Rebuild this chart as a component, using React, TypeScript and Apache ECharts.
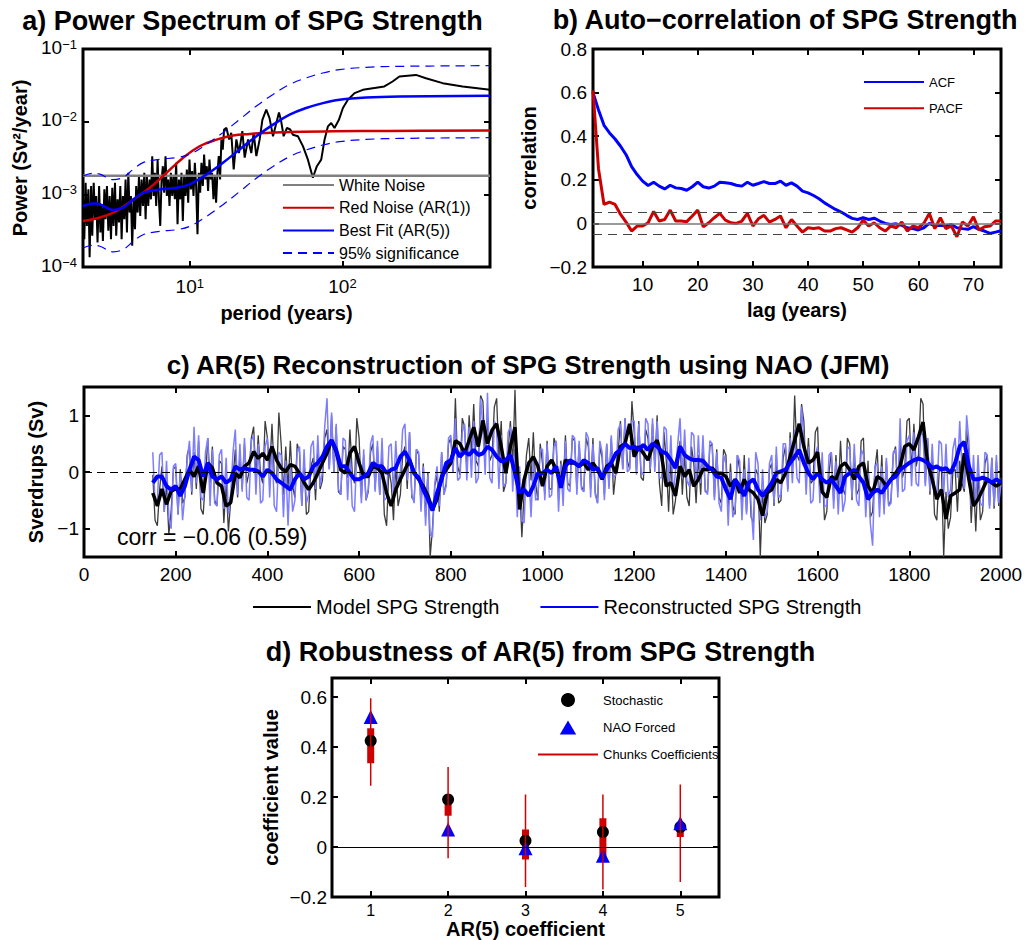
import React, { useEffect, useRef } from 'react';
import * as echarts from 'echarts';

const FONT = '"Liberation Sans", Arial, Helvetica, sans-serif';
const RED = '#cc0000';
const BLUE = '#0000ff';

// ---------- Panel a: power spectrum ----------
const specPeriod = [
  2.00, 2.04, 2.08, 2.12, 2.17, 2.21, 2.26, 2.30, 2.35, 2.40,
  2.44, 2.49, 2.55, 2.60, 2.65, 2.70, 2.76, 2.81, 2.87, 2.93,
  2.99, 3.05, 3.11, 3.17, 3.24, 3.30, 3.37, 3.44, 3.51, 3.58,
  3.65, 3.73, 3.80, 3.88, 3.96, 4.04, 4.12, 4.20, 4.29, 4.38,
  4.46, 4.56, 4.65, 4.74, 4.84, 4.94, 5.04, 5.14, 5.24, 5.35,
  5.46, 5.57, 5.68, 5.80, 5.91, 6.03, 6.16, 6.28, 6.41, 6.54,
  6.67, 6.80, 6.94, 7.08, 7.23, 7.37, 7.52, 7.68, 7.83, 7.99,
  8.15, 8.32, 8.49, 8.66, 8.83, 9.01, 9.19, 9.38, 9.57, 9.77,
  9.96, 10.17, 10.37, 10.58, 10.80, 11.01, 11.24, 11.47, 11.70, 11.93,
  12.18, 12.42, 12.67, 12.93, 13.19, 13.46, 13.73, 14.01, 14.30, 14.59,
  14.88, 15.18, 15.49, 15.80, 16.12, 16.45, 16.78,
  17.4, 18.1, 18.7, 19.4, 20.2, 21.0, 22.1, 22.9, 24.1, 25.3,
  26.2, 27.3, 28.7, 29.9, 31.7, 33.3, 35.1, 36.9, 38.4, 39.7,
  41.2, 43.3, 45.5, 47.4, 51.1, 55.1, 59.4, 64.0, 68.0, 72.6,
  76.4, 80.3, 84.4, 88.7, 94.8, 100.7, 108.5, 120, 136, 158,
  188, 213, 236, 303, 352, 453, 612, 925,
];
const specPower = [
  9.5e-4, 2.42e-4, 1.44e-3, 3.68e-4, 1.17e-3, 1.36e-4, 1.30e-3, 2.69e-4, 1.44e-3, 4.54e-4,
  9.5e-4, 2.18e-4, 1.30e-3, 2.98e-4, 6.92e-4, 2.29e-4, 1.17e-3, 4.54e-4, 1.30e-3, 3.15e-4,
  9.5e-4, 2.42e-4, 1.23e-3, 3.68e-4, 1.44e-3, 2.69e-4, 8.54e-4, 4.09e-4, 1.30e-3, 2.42e-4,
  9.5e-4, 4.54e-4, 1.60e-3, 2.98e-4, 1.98e-3, 5.61e-4, 9.5e-4, 1.96e-4, 8.54e-4, 3.31e-4,
  1.30e-3, 5.61e-4, 1.78e-3, 5.05e-4, 1.60e-3, 6.92e-4, 1.98e-3, 4.54e-4, 1.78e-3, 6.92e-4,
  1.60e-3, 8.54e-4, 3.35e-3, 9.5e-4, 1.98e-3, 6.92e-4, 3.02e-3, 8.54e-4, 3.68e-4, 1.60e-3,
  2.44e-3, 1.05e-3, 3.35e-3, 9.5e-4, 1.60e-3, 6.92e-4, 1.98e-3, 9.5e-4, 1.78e-3, 8.54e-4,
  2.71e-3, 3.88e-4, 1.60e-3, 8.54e-4, 1.98e-3, 4.31e-4, 1.78e-3, 9.5e-4, 2.20e-3, 7.69e-4,
  3.02e-3, 1.17e-3, 2.09e-3, 9.5e-4, 2.71e-3, 1.30e-3, 2.83e-4, 1.98e-3, 1.05e-3, 2.71e-3,
  1.30e-3, 3.53e-3, 1.60e-3, 2.44e-3, 1.11e-3, 3.02e-3, 1.60e-3, 1.98e-3, 8.54e-4, 1.78e-3,
  7.69e-4, 1.98e-3, 3.35e-3, 1.60e-3, 5.67e-3, 4.13e-3, 7.77e-3,
  8.2e-3, 5.7e-3, 7.0e-3, 2.2e-3, 5.7e-3, 3.7e-3, 7.4e-3, 3.2e-3, 5.7e-3, 3.7e-3,
  7.0e-3, 3.35e-3, 5.7e-3, 1.06e-2, 1.46e-2, 1.12e-2, 6.3e-3, 9.6e-3, 1.34e-2, 1.01e-2,
  6.3e-3, 8.2e-3, 7.8e-3, 6.6e-3, 6.3e-3, 4.6e-3, 3.0e-3, 1.69e-3, 2.44e-3, 3.0e-3,
  5.7e-3, 8.6e-3, 9.6e-3, 8.2e-3, 1.06e-2, 1.54e-2, 2.0e-2, 2.47e-2, 2.74e-2, 2.89e-2,
  3.05e-2, 3.57e-2, 4.18e-2, 4.4e-2, 3.96e-2, 3.39e-2, 3.05e-2, 2.74e-2,
];
const whiteNoiseLevel = 1.8e-3;
const redPeriod = [2, 2.58, 3.32, 4.27, 5.48, 7.05, 9.06, 11.6, 15.0, 19.2, 24.7, 31.7, 40.8, 86.5, 200, 925];
const redPower = [4.3e-4, 4.8e-4, 5.9e-4, 8.5e-4, 1.23e-3, 1.98e-3, 3.18e-3, 4.59e-3, 5.66e-3, 6.43e-3, 6.78e-3, 7.0e-3, 7.14e-3, 7.38e-3, 7.45e-3, 7.53e-3];
const fitPeriod = [2, 2.33, 2.58, 3.16, 3.67, 4.27, 4.95, 6.37, 8.19, 10, 12.9, 16.5, 21.2, 27.3, 35.1, 45.1, 57.9, 74.4, 95.7, 143, 236, 925];
const fitPower = [6.9e-4, 7.5e-4, 7.3e-4, 6.1e-4, 6.6e-4, 8.5e-4, 1.05e-3, 1.17e-3, 1.23e-3, 1.37e-3, 1.88e-3, 2.72e-3, 4.13e-3, 6.3e-3, 9.1e-3, 1.25e-2, 1.54e-2, 1.80e-2, 2.0e-2, 2.15e-2, 2.22e-2, 2.27e-2];
const sigUpper = [1.79e-3, 1.95e-3, 1.9e-3, 1.59e-3, 1.72e-3, 2.21e-3, 2.73e-3, 3.04e-3, 3.2e-3, 3.56e-3, 4.89e-3, 7.07e-3, 1.07e-2, 1.64e-2, 2.37e-2, 3.25e-2, 4.0e-2, 4.68e-2, 5.2e-2, 5.59e-2, 5.77e-2, 5.9e-2];
const sigLower = [1.83e-4, 1.99e-4, 1.93e-4, 1.62e-4, 1.75e-4, 2.25e-4, 2.78e-4, 3.1e-4, 3.26e-4, 3.63e-4, 4.98e-4, 7.2e-4, 1.09e-3, 1.67e-3, 2.41e-3, 3.31e-3, 4.08e-3, 4.77e-3, 5.3e-3, 5.7e-3, 5.88e-3, 6.02e-3];

// ---------- Panel b: ACF / PACF ----------
const acf = [
  0.60, 0.52, 0.45, 0.415, 0.387, 0.354, 0.315, 0.26, 0.224, 0.194,
  0.174, 0.189, 0.171, 0.158, 0.175, 0.163, 0.16, 0.152, 0.168, 0.189,
  0.168, 0.162, 0.171, 0.189, 0.186, 0.183, 0.175, 0.171, 0.189, 0.175,
  0.183, 0.192, 0.183, 0.183, 0.194, 0.175, 0.186, 0.171, 0.148, 0.14,
  0.128, 0.113, 0.094, 0.079, 0.064, 0.052, 0.037, 0.023, 0.018, 0.026,
  0.018, 0.024, 0.011, 0.0, -0.005, -0.002, -0.009, -0.02, -0.024, -0.03,
  -0.02, 0.0, -0.012, -0.009, -0.012, -0.005, -0.02, -0.024, -0.027, -0.015,
  -0.027, -0.035, -0.046, -0.04, -0.034,
];
const pacf = [
  0.61, 0.25, 0.087, 0.098, 0.087, 0.041, 0.006, -0.035, -0.012, -0.012,
  0.003, 0.055, 0.011, 0.018, 0.061, 0.011, 0.011, 0.008, 0.034, 0.061,
  -0.015, 0.003, 0.026, 0.046, 0.015, 0.003, 0.0, 0.011, 0.046, -0.012,
  0.021, 0.037, 0.006, 0.018, 0.034, -0.02, 0.018, -0.012, -0.04, -0.02,
  -0.023, -0.02, -0.035, -0.035, -0.024, -0.02, -0.03, -0.04, -0.02, 0.015,
  -0.012, 0.003, -0.02, -0.035, -0.012, -0.02, 0.006, -0.035, -0.012, -0.02,
  0.0, 0.046, -0.024, 0.026, -0.024, -0.012, -0.061, 0.006, -0.012, 0.03,
  -0.03, -0.015, -0.012, 0.011, 0.011,
];
const confBound = 0.047;

// ---------- Panel c: time series (decadal smooth, 5-yearly raw) ----------
const modelSmooth = [
  -0.37, -0.6, -0.3, -0.57, -0.34, -0.3, -0.3, -0.13, 0.04, -0.08,
  0.1, -0.37, 0.16, 0.07, -0.19, -0.25, -0.6, -0.54, -0.02, -0.1,
  0.1, 0.16, 0.36, 0.24, 0.33, 0.21, 0.45, 0.21, 0.07, 0.01,
  0.13, 0.1, -0.02, -0.19, -0.31, -0.19, -0.02, 0.16, 0.33, 0.56,
  0.36, 0.04, -0.02, 0.33, 0.45, 0.16, -0.08, -0.08, 0.1, 0.07,
  -0.02, -0.37, -0.6, -0.31, -0.13, 0.04, 0.21, -0.02, -0.13, -0.25,
  -0.42, -0.66, -0.48, -0.08, 0.04, 0.16, 0.55, 0.5, 0.33, 0.56,
  0.79, 0.45, 0.91, 0.5, 0.74, 0.85, 0.45, -0.02, 0.45, 0.79,
  -0.66, -0.13, 0.16, 0.27, 0.1, -0.25, 0.1, 0.21, 0.04, -0.19,
  0.21, 0.16, 0.16, 0.1, 0.16, 0.04, 0.16, 0.04, -0.13, 0.1,
  0.16, -0.02, 0.45, 0.5, 0.85, 0.27, 0.45, 0.33, 0.21, 0.45,
  0.56, 0.27, -0.25, -0.19, -0.42, 0.1, -0.08, 0.04, -0.25, -0.13,
  0.05, 0.04, 0.07, -0.02, -0.02, -0.08, -0.25, -0.13, -0.37, -0.13,
  -0.31, -0.37, -0.48, -0.77, -0.37, -0.31, -0.13, -0.19, -0.02, 0.27,
  0.56, 0.85, 0.45, 0.16, 0.21, 0.35, -0.35, -0.45, -0.08, -0.13,
  0.1, 0.16, 0.04, -0.13, 0.1, 0.16, -0.25, -0.37, -0.08, -0.13,
  -0.25, -0.13, -0.02, 0.1, 0.45, 0.5, 0.39, 0.62, 0.88, 0.16,
  -0.13, -0.48, -0.31, -0.83, -0.42, -0.37, -0.31, 0.33, -0.13, -0.6,
  -0.48, -0.31, -0.13, -0.19, -0.25, -0.19,
];
const reconSmooth = [
  -0.19, -0.08, -0.08, -0.25, -0.31, -0.25, -0.42, -0.25, 0.04, 0.27,
  0.21, -0.08, 0.16, -0.08, -0.13, -0.08, -0.19, -0.13, 0.1, 0.04,
  0.07, 0.04, 0.04, 0.01, -0.08, 0.04, -0.02, -0.13, -0.19, -0.25,
  -0.31, -0.13, -0.02, -0.13, -0.08, 0.1, 0.16, 0.27, 0.45, 0.56,
  0.39, 0.1, 0.1, -0.02, -0.13, -0.13, -0.08, -0.02, 0.16, 0.1,
  0.1, -0.02, 0.04, 0.07, 0.27, 0.36, 0.21, -0.02, -0.1, -0.31,
  -0.48, -0.68, -0.37, -0.13, 0.16, 0.21, 0.42, 0.27, 0.36, 0.3,
  0.39, 0.3, 0.33, 0.45, 0.39, 0.27, 0.19, 0.21, 0.3, -0.02,
  -0.37, -0.31, -0.42, -0.25, -0.02, -0.02, 0.04, -0.02, 0.1, -0.28,
  0.1, 0.21, 0.16, 0.1, 0.21, 0.16, 0.04, 0.07, -0.1, 0.04,
  0.16, 0.33, 0.39, 0.5, 0.42, 0.45, 0.39, 0.48, 0.39, 0.5,
  0.45, 0.36, 0.33, 0.21, 0.07, 0.45, 0.3, 0.24, 0.21, 0.21,
  0.2, 0.1, 0.04, -0.08, -0.1, -0.31, -0.48, -0.13, -0.25, -0.42,
  -0.19, -0.13, -0.31, -0.42, -0.31, -0.19, -0.02, 0.01, 0.04, 0.16,
  0.27, 0.39, 0.16, -0.02, -0.13, -0.02, -0.13, -0.19, -0.13, -0.25,
  -0.37, -0.08, -0.02, 0.04, -0.08, -0.19, -0.48, -0.37, -0.31, -0.37,
  -0.25, -0.13, -0.08, 0.04, 0.1, 0.16, 0.21, 0.24, 0.21, 0.16,
  0.07, 0.1, 0.04, 0.07, -0.02, 0.16, 0.45, 0.53, 0.1, -0.13,
  -0.13, -0.1, -0.13, -0.19, -0.13, -0.19,
];
const modelRaw = [
  -0.05, -0.85, -0.95, -0.3, 0.1, -0.7, -0.2, -1.1, -0.7, 0.05, 0.1, -0.75, 0.05, -0.55, -0.45, 0.3, 0.45, -0.4, 0.35, -0.3,
  0.55, -0.65, -0.75, -0.1, 0.6, -0.2, 0.45, -0.5, -0.6, 0.2, 0.15, -0.9, -0.2, -1.05, -0.5, -0.1, 0.4, -0.45, 0.3, -0.3,
  0.5, -0.2, 0.0, 0.6, 0.8, -0.1, 0.65, -0.05, -0.2, 0.9, 0.6, 0.0, 0.85, -0.05, -0.2, 1.05, 0.5, -0.4, 0.45, -0.3,
  0.55, -0.25, -0.45, 0.5, 0.35, -0.6, 0.2, -0.75, -0.7, 0.1, 0.25, -0.5, 0.4, -0.3, -0.15, 0.6, 0.75, 0.05, 1.0, 0.0,
  0.8, -0.35, -0.4, 0.45, 0.4, -0.1, 0.75, 0.0, -0.2, 0.95, 0.6, -0.45, 0.3, -0.5, -0.35, 0.35, 0.5, -0.3, 0.45, -0.4,
  0.35, -0.75, -0.95, 0.05, -0.2, -0.85, 0.15, -0.6, -0.4, 0.3, 0.45, -0.3, 0.7, -0.45, -0.5, 0.4, 0.3, -0.6, 0.15, -0.8,
  0.0, -1.5, -1.0, -0.25, -0.05, -0.7, 0.35, -0.4, -0.2, 0.5, 0.6, 0.0, 1.3, 0.1, -0.05, 0.95, 0.8, 0.05, 1.0, 0.3,
  1.2, 0.2, 0.1, 1.35, 1.25, 0.3, 0.95, 0.2, 0.3, 1.15, 1.3, 0.2, 0.9, -0.35, -0.2, 0.4, 0.9, 0.1, 1.45, -0.1,
  -0.2, -1.15, -0.35, 0.3, 0.6, -0.15, 0.7, -0.2, -0.5, 0.5, 0.15, -0.4, 0.55, -0.3, -0.3, 0.6, 0.45, -0.5, 0.2, -0.3,
  0.65, -0.2, -0.25, 0.6, 0.55, -0.3, 0.5, -0.25, -0.35, 0.6, 0.45, -0.3, 0.6, -0.35, -0.55, 0.45, 0.25, -0.4, 0.5, -0.25,
  0.6, -0.4, 0.0, 0.35, 0.9, 0.05, 0.95, 0.2, 0.05, 1.25, 0.7, 0.0, 0.9, -0.1, -0.15, 0.75, 0.6, 0.0, 0.85, 0.1,
  1.0, -0.2, -0.6, 0.7, 0.2, -0.7, 0.25, -0.75, -0.5, 0.0, 0.55, -0.4, 0.35, -0.45, -0.6, 0.45, 0.15, -0.55, 0.3, -0.4,
  0.5, -0.35, -0.35, 0.45, 0.5, -0.45, 0.4, -0.45, -0.55, 0.4, 0.3, -0.6, 0.15, -0.6, -0.75, 0.3, 0.05, -0.6, 0.3, -0.7,
  0.1, -0.8, -0.9, 0.05, -0.05, -1.5, -0.3, -0.9, -0.75, 0.05, 0.15, -0.6, 0.3, -0.55, -0.5, 0.25, 0.45, -0.3, 0.7, 0.0,
  1.35, 0.3, 0.2, 1.2, 0.9, -0.1, 0.6, -0.2, -0.15, 0.7, 0.8, -0.4, 0.1, -0.85, -0.7, 0.0, 0.35, -0.5, 0.3, -0.4,
  0.55, -0.3, -0.4, 0.6, 0.5, -0.5, 0.35, -0.4, -0.3, 0.55, 0.6, -0.6, 0.2, -0.8, -0.7, 0.05, 0.4, -0.55, 0.3, -0.65,
  0.2, -0.6, -0.5, 0.3, 0.45, -0.35, 0.55, -0.1, 0.05, 0.9, 0.95, 0.0, 0.85, 0.1, 0.3, 1.3, 1.2, -0.2, 0.6, -0.4,
  0.3, -0.75, -0.85, 0.0, 0.1, -1.5, -0.35, -1.0, -0.8, 0.0, 0.05, -0.7, 0.2, -0.2, -0.35, 0.75, 0.3, -0.9, -0.15, -1.05,
  0.0, -0.85, -0.7, 0.15, 0.3, -0.6, 0.25, -0.65, 0.2, -0.6, -0.1,
];
const reconRaw = [
  0.35, -0.55, -0.5, 0.3, 0.35, -0.7, 0.2, -0.8, -1.0, 0.1, 0.15, -0.75, 0.0, -0.85, -0.4, 0.2, 0.55, -0.35, 0.8, -0.2,
  0.65, -0.45, -0.5, 0.35, 0.6, -0.6, 0.4, -0.55, -0.6, 0.3, 0.4, -0.65, 0.25, -0.75, -0.4, 0.35, 0.75, -0.4, 0.5, -0.35,
  0.6, -0.45, -0.5, 0.55, 0.65, -0.4, 0.5, -0.55, -0.5, 0.45, 0.6, -0.45, 0.5, -0.6, -0.7, 0.35, 0.3, -0.8, 0.2, -0.95,
  0.1, -0.7, -0.5, 0.35, 0.45, -0.6, 0.4, -0.55, -0.4, 0.45, 0.55, -0.3, 0.65, -0.25, 0.0, 0.8, 1.3, 0.05, 1.05, 0.0,
  0.85, -0.3, -0.4, 0.6, 0.55, -0.5, 0.4, -0.6, -0.7, 0.35, 0.3, -0.55, 0.4, -0.5, -0.3, 0.5, 0.65, -0.35, 0.55, -0.4,
  0.6, -0.5, -0.45, 0.45, 0.5, -0.4, 0.55, -0.2, 0.0, 0.75, 0.85, -0.15, 0.7, -0.4, -0.55, 0.4, 0.35, -0.7, 0.1, -0.95,
  -0.05, -1.1, -1.15, -0.2, 0.1, -0.6, 0.35, -0.4, -0.25, 0.6, 0.65, 0.0, 0.95, -0.15, -0.1, 0.7, 0.85, -0.15, 0.8, -0.1,
  0.9, -0.2, -0.1, 1.3, 0.8, -0.05, 1.4, -0.1, -0.2, 0.9, 0.75, -0.3, 0.65, -0.25, -0.2, 0.7, 0.8, -0.35, 0.4, -0.8,
  0.1, -0.85, -0.9, 0.15, 0.05, -0.8, 0.2, -0.5, -0.45, 0.4, 0.4, -0.5, 0.5, -0.45, -0.4, 0.45, 0.55, -0.7, 0.15, -0.6,
  0.55, -0.3, -0.35, 0.65, 0.6, -0.4, 0.55, -0.3, -0.35, 0.7, 0.6, -0.45, 0.5, -0.4, -0.55, 0.55, 0.35, -0.5, 0.5, -0.3,
  0.65, -0.1, -0.05, 0.75, 0.85, 0.05, 0.95, 0.0, 0.05, 0.9, 0.9, -0.05, 0.85, 0.0, -0.05, 0.95, 0.85, 0.05, 0.95, 0.0,
  0.9, -0.1, -0.1, 0.8, 0.75, -0.2, 0.65, -0.4, 0.0, 0.5, 0.95, -0.1, 0.75, -0.15, -0.25, 0.7, 0.65, -0.25, 0.65, -0.2,
  0.65, -0.3, -0.4, 0.55, 0.5, -0.5, 0.35, -0.55, -0.7, 0.3, 0.15, -0.95, 0.0, -0.8, -0.65, 0.3, 0.2, -0.85, 0.05, -0.75,
  0.25, -0.6, -1.2, 0.35, 0.15, -0.85, 0.05, -0.8, -0.7, 0.15, 0.3, -0.55, 0.45, -0.45, -0.4, 0.5, 0.5, -0.35, 0.6, -0.2,
  0.75, -0.1, -0.2, 1.15, 0.6, -0.4, 0.45, -0.55, -0.5, 0.3, 0.45, -0.55, 0.35, -0.6, -0.6, 0.3, 0.35, -0.65, 0.2, -0.75,
  0.1, -0.7, -0.5, 0.4, 0.45, -0.45, 0.5, -0.5, -0.6, 0.4, 0.3, -0.8, 0.0, -0.9, -1.3, 0.1, 0.15, -0.8, 0.1, -0.75,
  0.25, -0.6, -0.55, 0.35, 0.4, -0.45, 0.95, -0.35, -0.3, 0.55, 0.65, -0.25, 0.7, -0.2, -0.25, 0.7, 0.65, -0.25, 0.6, -0.35,
  0.5, -0.35, -0.4, 0.55, 0.5, -0.4, 0.5, -0.45, -0.3, 0.4, 0.6, -0.1, 0.9, 0.05, -0.3, 1.0, 0.55, -0.6, 0.3, -0.6,
  0.3, -0.55, -0.6, 0.35, 0.3, -0.65, 0.25, -0.6, 0.3, -0.55, -0.2,
];
const years10 = modelSmooth.map((_, i) => 150 + i * 10);
const years5 = modelRaw.map((_, i) => 150 + i * 5);

// ---------- Panel d: AR(5) coefficients ----------
const coefIndex = [1, 2, 3, 4, 5];
const stochastic = [0.425, 0.19, 0.025, 0.06, 0.08];
const naoForced = [0.52, 0.07, -0.005, -0.035, 0.095];
const chunkMin = [0.245, -0.045, -0.16, -0.17, -0.14];
const chunkMax = [0.595, 0.32, 0.21, 0.21, 0.25];
const chunkQ1 = [0.335, 0.125, -0.05, -0.04, 0.04];
const chunkQ3 = [0.475, 0.205, 0.07, 0.115, 0.095];

// ---------- helpers ----------
const zip = (xs: number[], ys: any[]) => xs.map((x, i) => [x, ys[i]]);
const fmtNum = (v: number) => {
  const r = Math.round(v * 1000) / 1000;
  return r < 0 ? '\u2212' + String(-r) : String(r);
};
const pow10Label = (v: number) => {
  const e = Math.round(Math.log10(v));
  const es = e < 0 ? '\u2212' + Math.abs(e) : String(e);
  return '{b|10}{s|' + es + '}';
};
const supRich = {
  b: { fontSize: 19, lineHeight: 19, verticalAlign: 'bottom', fontFamily: FONT, color: '#000' },
  s: { fontSize: 13, lineHeight: 13, verticalAlign: 'top', padding: [0, 0, 10, 0], fontFamily: FONT, color: '#000' },
};
const nameStyle = { fontFamily: FONT, fontSize: 20, fontWeight: 'bold', color: '#000' };
const tickOf = (vals: number[]) => ({ show: true, inside: true, length: 6, customValues: vals, lineStyle: { color: '#000', width: 2 } });

function mainAxis(gridIndex: number, position: string, scale: any, ticks: number[], labelExtra: any, name?: string, nameGap?: number) {
  return {
    gridIndex, position, ...scale,
    axisLine: { show: false, onZero: false }, splitLine: { show: false }, minorTick: { show: false }, minorSplitLine: { show: false },
    axisTick: tickOf(ticks),
    axisLabel: { show: true, customValues: ticks, color: '#000', fontFamily: FONT, fontSize: 19, formatter: fmtNum, ...labelExtra },
    name: name || '', nameLocation: 'middle', nameGap: nameGap || 0, nameTextStyle: nameStyle,
  };
}
function mirrorAxis(gridIndex: number, position: string, scale: any, ticks: number[]) {
  return {
    gridIndex, position, ...scale,
    axisLine: { show: false, onZero: false }, splitLine: { show: false }, minorTick: { show: false },
    axisTick: tickOf(ticks), axisLabel: { show: false },
  };
}

function buildOption(): any {
  const gridBase = { show: true, borderColor: '#000', borderWidth: 3, backgroundColor: '#fff', containLabel: false, outerBoundsMode: 'none' };
  const logX = { type: 'log', logBase: 10, min: 2, max: 925 };
  const logY = { type: 'log', logBase: 10, min: 1e-4, max: 1e-1 };
  const lagX = { type: 'value', min: 1, max: 75 };
  const corrY = { type: 'value', min: -0.2, max: 0.8 };
  const yearX = { type: 'value', min: 0, max: 2000 };
  const svY = { type: 'value', min: -1.5, max: 1.5 };
  const coefX = { type: 'value', min: 0.5, max: 5.5 };
  const coefY = { type: 'value', min: -0.2, max: 0.676 };

  const decades = [1e-4, 1e-3, 1e-2, 1e-1];
  const lagTicks = [10, 20, 30, 40, 50, 60, 70];
  const corrTicks = [-0.2, 0, 0.2, 0.4, 0.6, 0.8];
  const yearTicks = [0, 200, 400, 600, 800, 1000, 1200, 1400, 1600, 1800, 2000];
  const coefYTicks = [-0.2, 0, 0.2, 0.4, 0.6];

  const legendText = (size: number) => ({ fontSize: size, color: '#000', fontFamily: FONT });
  const titleStyle = (size: number) => ({ fontSize: size, lineHeight: 20, fontWeight: 'bold', color: '#000', fontFamily: FONT });
  const hideSymbol = { opacity: 0 };

  const whisker: any[] = [];
  coefIndex.forEach((c, i) => { whisker.push([c, chunkMin[i]], [c, chunkMax[i]], [c, '-']); });

  return {
    animation: false,
    backgroundColor: '#fff',
    textStyle: { fontFamily: FONT },
    title: [
      { text: 'a) Power Spectrum of SPG Strength', left: 252.5, top: 10.5, textAlign: 'center', padding: 0, textStyle: titleStyle(27) },
      { text: 'b) Auto\u2212correlation of SPG Strength', left: 785, top: 10, textAlign: 'center', padding: 0, textStyle: titleStyle(27) },
      { text: 'c) AR(5) Reconstruction of SPG Strength using NAO (JFM)', left: 528, top: 354.5, textAlign: 'center', padding: 0, textStyle: titleStyle(26) },
      { text: 'd) Robustness of AR(5) from SPG Strength', left: 540.5, top: 641.5, textAlign: 'center', padding: 0, textStyle: titleStyle(27) },
    ],
    grid: [
      { ...gridBase, left: 83, top: 49, width: 407, height: 218 },
      { ...gridBase, left: 593, top: 49, width: 408, height: 218 },
      { ...gridBase, left: 84, top: 387, width: 917, height: 170 },
      { ...gridBase, left: 332, top: 678, width: 387, height: 219 },
    ],
    xAxis: [
      mainAxis(0, 'bottom', logX, [10, 100], { formatter: pow10Label, rich: supRich, margin: 10 }, 'period (years)', 36),
      mirrorAxis(0, 'top', logX, [10, 100]),
      mainAxis(1, 'bottom', lagX, lagTicks, { margin: 8 }, 'lag (years)', 33),
      mirrorAxis(1, 'top', lagX, lagTicks),
      mainAxis(2, 'bottom', yearX, yearTicks, { margin: 8 }),
      mirrorAxis(2, 'top', yearX, yearTicks),
      mainAxis(3, 'bottom', coefX, coefIndex, { margin: 5, fontSize: 16 }, 'AR(5) coefficient', 20),
      mirrorAxis(3, 'top', coefX, coefIndex),
    ],
    yAxis: [
      mainAxis(0, 'left', logY, decades, { formatter: pow10Label, rich: supRich, margin: 6, padding: [0, 0, 4, 0] }, 'Power (Sv\u00b2/year)', 53),
      mirrorAxis(0, 'right', logY, decades),
      mainAxis(1, 'left', corrY, corrTicks, { margin: 6 }, 'correlation', 54),
      mirrorAxis(1, 'right', corrY, corrTicks),
      mainAxis(2, 'left', svY, [-1, 0, 1], { margin: 5 }, 'Sverdrups (Sv)', 37),
      mirrorAxis(2, 'right', svY, [-1, 0, 1]),
      mainAxis(3, 'left', coefY, coefYTicks, { margin: 5 }, 'coefficient value', 51),
      mirrorAxis(3, 'right', coefY, coefYTicks),
    ],
    legend: [
      {
        data: ['White Noise', 'Red Noise (AR(1))', 'Best Fit (AR(5))', '95% significance'],
        orient: 'vertical', left: 282, top: 177, itemWidth: 51, itemHeight: 16, itemGap: 6.7, padding: 0,
        itemStyle: hideSymbol, textStyle: legendText(16), selectedMode: false,
      },
      {
        data: ['ACF', 'PACF'], orient: 'vertical', left: 863, top: 75.5, itemWidth: 60, itemHeight: 14, itemGap: 13.3, padding: 0,
        itemStyle: hideSymbol, textStyle: legendText(13), selectedMode: false,
      },
      {
        data: ['Model SPG Strength', 'Reconstructed SPG Strength'], orient: 'horizontal', left: 252, top: 597,
        itemWidth: 58, itemHeight: 20, itemGap: 40, padding: 0, itemStyle: hideSymbol, textStyle: legendText(20), selectedMode: false,
      },
      {
        data: [
          'Stochastic',
          { name: 'NAO Forced', icon: 'path://M7,0L14,12L0,12Z' },
          { name: 'Chunks Coefficients', itemStyle: hideSymbol },
        ],
        orient: 'vertical', left: 537, top: 693,
        itemWidth: 60, itemHeight: 14, itemGap: 13.5, padding: 0, symbolKeepAspect: true, textStyle: legendText(13), selectedMode: false,
      },
    ],
    graphic: [
      { type: 'text', left: 117, top: 525, z: 100, style: { text: 'corr = \u22120.06 (0.59)', fontSize: 23, fontFamily: FONT, fill: '#000' } },
    ],
    series: [
      // Panel a
      { name: 'Spectrum', type: 'line', xAxisIndex: 0, yAxisIndex: 0, data: zip(specPeriod, specPower), symbol: 'none', lineStyle: { color: '#000', width: 2 }, itemStyle: { color: '#000' } },
      { name: 'White Noise', type: 'line', xAxisIndex: 0, yAxisIndex: 0, data: [[2, whiteNoiseLevel], [925, whiteNoiseLevel]], symbol: 'none', lineStyle: { color: '#808080', width: 2.5 }, itemStyle: { color: '#808080' } },
      { name: 'Red Noise (AR(1))', type: 'line', xAxisIndex: 0, yAxisIndex: 0, data: zip(redPeriod, redPower), smooth: 0.4, symbol: 'none', lineStyle: { color: RED, width: 2.5 }, itemStyle: { color: RED } },
      { name: 'Best Fit (AR(5))', type: 'line', xAxisIndex: 0, yAxisIndex: 0, data: zip(fitPeriod, fitPower), smooth: 0.4, symbol: 'none', lineStyle: { color: BLUE, width: 2.5 }, itemStyle: { color: BLUE } },
      { name: '95% significance', type: 'line', xAxisIndex: 0, yAxisIndex: 0, data: zip(fitPeriod, sigUpper), smooth: 0.4, symbol: 'none', lineStyle: { color: BLUE, width: 1.2, type: [9, 6] }, itemStyle: { color: BLUE } },
      { name: '95% significance', type: 'line', xAxisIndex: 0, yAxisIndex: 0, data: zip(fitPeriod, sigLower), smooth: 0.4, symbol: 'none', lineStyle: { color: BLUE, width: 1.2, type: [9, 6] }, itemStyle: { color: BLUE } },
      // Panel b
      {
        name: 'ACF', type: 'line', xAxisIndex: 2, yAxisIndex: 2, data: acf.map((v, i) => [i + 1, v]), symbol: 'none',
        lineStyle: { color: BLUE, width: 3 }, itemStyle: { color: BLUE },
        markLine: {
          silent: true, symbol: 'none', label: { show: false }, animation: false,
          data: [
            { yAxis: 0, lineStyle: { color: '#777', width: 1.5, type: 'solid' } },
            { yAxis: confBound, lineStyle: { color: '#444', width: 1.2, type: [9, 6] } },
            { yAxis: -confBound, lineStyle: { color: '#444', width: 1.2, type: [9, 6] } },
          ],
        },
      },
      { name: 'PACF', type: 'line', xAxisIndex: 2, yAxisIndex: 2, data: pacf.map((v, i) => [i + 1, v]), symbol: 'none', lineStyle: { color: RED, width: 3 }, itemStyle: { color: RED } },
      // Panel c
      { name: 'Model raw', type: 'line', xAxisIndex: 4, yAxisIndex: 4, data: zip(years5, modelRaw), symbol: 'none', lineStyle: { color: '#3c3c3c', width: 1.3 }, itemStyle: { color: '#3c3c3c' } },
      {
        name: 'Reconstructed raw', type: 'line', xAxisIndex: 4, yAxisIndex: 4, data: zip(years5, reconRaw), symbol: 'none',
        lineStyle: { color: '#7d7dff', width: 1.5 }, itemStyle: { color: '#7d7dff' },
        markLine: { silent: true, symbol: 'none', label: { show: false }, data: [{ yAxis: 0, lineStyle: { color: '#000', width: 1, type: [8, 5] } }] },
      },
      { name: 'Model SPG Strength', type: 'line', xAxisIndex: 4, yAxisIndex: 4, data: zip(years10, modelSmooth), symbol: 'none', lineStyle: { color: '#000', width: 3.5 }, itemStyle: { color: '#000' } },
      { name: 'Reconstructed SPG Strength', type: 'line', xAxisIndex: 4, yAxisIndex: 4, data: zip(years10, reconSmooth), symbol: 'none', lineStyle: { color: BLUE, width: 4 }, itemStyle: { color: BLUE } },
      // Panel d
      {
        name: 'Chunks Coefficients', type: 'line', xAxisIndex: 6, yAxisIndex: 6, data: whisker, symbol: 'none', connectNulls: false,
        lineStyle: { color: '#d40000', width: 1.5 }, itemStyle: { color: '#d40000' },
        markLine: { silent: true, symbol: 'none', label: { show: false }, data: [{ yAxis: 0, lineStyle: { color: '#000', width: 1.2, type: 'solid' } }] },
      },
      {
        name: 'Chunks IQR', type: 'custom', xAxisIndex: 6, yAxisIndex: 6,
        data: coefIndex.map((c, i) => [c, chunkQ1[i], chunkQ3[i]]),
        encode: { x: 0, y: [1, 2] },
        renderItem: (params: any, api: any) => {
          const x = api.value(0);
          const top = api.coord([x, api.value(2)]);
          const bot = api.coord([x, api.value(1)]);
          return { type: 'rect', shape: { x: top[0] - 3.5, y: top[1], width: 7, height: bot[1] - top[1] }, style: { fill: RED } };
        },
      },
      { name: 'Stochastic', type: 'scatter', xAxisIndex: 6, yAxisIndex: 6, data: zip(coefIndex, stochastic), symbol: 'circle', symbolSize: 12, itemStyle: { color: '#000', opacity: 1 } },
      { name: 'NAO Forced', type: 'scatter', xAxisIndex: 6, yAxisIndex: 6, data: zip(coefIndex, naoForced), symbol: 'triangle', symbolSize: 14, itemStyle: { color: BLUE, opacity: 1 } },
    ],
  };
}

export default function App() {
  const ref = useRef<HTMLDivElement>(null);
  useEffect(() => {
    if (!ref.current) return;
    const chart = echarts.init(ref.current, undefined, { renderer: 'svg' });
    chart.setOption(buildOption());
    return () => chart.dispose();
  }, []);
  return <div ref={ref} style={{ position: 'absolute', left: 0, top: 0, width: 1028, height: 940, background: '#fff' }} />;
}
